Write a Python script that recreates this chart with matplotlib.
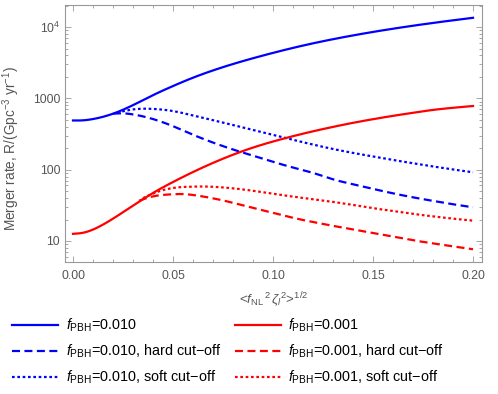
import numpy as np
import matplotlib
matplotlib.use("Agg")
import matplotlib.pyplot as plt
from matplotlib.ticker import FixedLocator, NullFormatter, FuncFormatter, LogLocator

plt.rcParams['font.family'] = ['Liberation Sans', 'DejaVu Sans']
plt.rcParams['mathtext.fontset'] = 'custom'
plt.rcParams['mathtext.rm'] = 'Liberation Sans'
plt.rcParams['mathtext.it'] = 'Liberation Sans:italic'
plt.rcParams['mathtext.bf'] = 'Liberation Sans:bold'

# ---- data (log10 of merger rate) ----
x_full = [0.00, 0.005, 0.01, 0.02, 0.03, 0.04, 0.05, 0.06, 0.07, 0.08, 0.09, 0.10,
          0.11, 0.12, 0.13, 0.14, 0.15, 0.16, 0.17, 0.18, 0.19, 0.20]
blue_solid_log = [2.69, 2.692, 2.71, 2.785, 2.905, 3.045, 3.173, 3.29, 3.392, 3.482, 3.563, 3.638,
                  3.708, 3.772, 3.83, 3.883, 3.932, 3.977, 4.019, 4.058, 4.095, 4.13]
red_solid_log = [1.10, 1.115, 1.16, 1.313, 1.495, 1.673, 1.827, 1.967, 2.095, 2.21, 2.31, 2.395,
                 2.47, 2.538, 2.6, 2.657, 2.708, 2.755, 2.798, 2.838, 2.868, 2.893]

x_blue_hard = [0.02, 0.025, 0.03, 0.04, 0.05, 0.06, 0.07, 0.08, 0.09, 0.10,
               0.11, 0.12, 0.13, 0.14, 0.15, 0.16, 0.17, 0.18, 0.19, 0.20]
blue_hard_log = [2.785, 2.79, 2.775, 2.71, 2.61, 2.49, 2.38, 2.283, 2.196, 2.11,
                 2.03, 1.955, 1.865, 1.795, 1.73, 1.668, 1.612, 1.562, 1.515, 1.472]

x_blue_soft = [0.022, 0.03, 0.035, 0.04, 0.05, 0.06, 0.07, 0.08, 0.09, 0.10,
               0.11, 0.12, 0.13, 0.14, 0.15, 0.16, 0.17, 0.18, 0.19, 0.20]
blue_soft_log = [2.80, 2.845, 2.855, 2.852, 2.822, 2.76, 2.694, 2.626, 2.556, 2.486,
                 2.418, 2.352, 2.29, 2.235, 2.185, 2.136, 2.09, 2.045, 2.003, 1.963]

x_red_hard = [0.033, 0.04, 0.05, 0.055, 0.06, 0.07, 0.08, 0.09, 0.10,
              0.11, 0.12, 0.13, 0.14, 0.15, 0.16, 0.17, 0.18, 0.19, 0.20]
red_hard_log = [1.565, 1.625, 1.655, 1.658, 1.645, 1.598, 1.535, 1.463, 1.395,
                1.325, 1.266, 1.212, 1.162, 1.11, 1.06, 1.01, 0.966, 0.924, 0.884]

x_red_soft = [0.035, 0.04, 0.05, 0.06, 0.065, 0.07, 0.08, 0.09, 0.10,
              0.11, 0.12, 0.13, 0.14, 0.15, 0.16, 0.17, 0.18, 0.19, 0.20]
red_soft_log = [1.60, 1.665, 1.743, 1.762, 1.764, 1.76, 1.738, 1.704, 1.662,
                1.622, 1.585, 1.548, 1.505, 1.46, 1.42, 1.38, 1.345, 1.313, 1.285]

labels = [r"$f_{\mathrm{PBH}}$=0.010",
          r"$f_{\mathrm{PBH}}$=0.010, hard cut$-$off",
          r"$f_{\mathrm{PBH}}$=0.010, soft cut$-$off",
          r"$f_{\mathrm{PBH}}$=0.001",
          r"$f_{\mathrm{PBH}}$=0.001, hard cut$-$off",
          r"$f_{\mathrm{PBH}}$=0.001, soft cut$-$off"]

x_ticks = [0.00, 0.05, 0.10, 0.15, 0.20]
x_tick_labels = ["0.00", "0.05", "0.10", "0.15", "0.20"]


def spline(xs, ys, n=400):
    """Natural cubic spline through the read points (for smooth drawing)."""
    xs = np.asarray(xs, float)
    ys = np.asarray(ys, float)
    k = len(xs)
    h = np.diff(xs)
    A = np.zeros((k, k))
    b = np.zeros(k)
    A[0, 0] = A[-1, -1] = 1.0
    for i in range(1, k - 1):
        A[i, i - 1] = h[i - 1]
        A[i, i] = 2 * (h[i - 1] + h[i])
        A[i, i + 1] = h[i]
        b[i] = 3 * ((ys[i + 1] - ys[i]) / h[i] - (ys[i] - ys[i - 1]) / h[i - 1])
    c = np.linalg.solve(A, b)
    bb = (ys[1:] - ys[:-1]) / h - h * (2 * c[:-1] + c[1:]) / 3
    d = (c[1:] - c[:-1]) / (3 * h)
    xx = np.linspace(xs[0], xs[-1], n)
    idx = np.clip(np.searchsorted(xs, xx) - 1, 0, k - 2)
    t = xx - xs[idx]
    yy = ys[idx] + bb[idx] * t + c[idx] * t**2 + d[idx] * t**3
    return xx, 10 ** yy


fig = plt.figure(figsize=(4.98, 3.94), dpi=100)
ax = fig.add_axes([65 / 498, 1 - 262 / 394, (482 - 65) / 498, (262 - 5) / 394])

blue = (0, 0, 1)
red = (1, 0, 0)
lw = 1.6
dash = (3.6, 2.0)
dot = (1.2, 1.2)

handles = []
h, = ax.plot(*spline(x_full, blue_solid_log), color=blue, lw=lw)
handles.append(h)
h, = ax.plot(*spline(x_blue_hard, blue_hard_log), color=blue, lw=lw, dashes=dash)
handles.append(h)
h, = ax.plot(*spline(x_blue_soft, blue_soft_log), color=blue, lw=lw, dashes=dot)
handles.append(h)
h, = ax.plot(*spline(x_full, red_solid_log), color=red, lw=lw)
handles.append(h)
h, = ax.plot(*spline(x_red_hard, red_hard_log), color=red, lw=lw, dashes=dash)
handles.append(h)
h, = ax.plot(*spline(x_red_soft, red_soft_log), color=red, lw=lw, dashes=dot)
handles.append(h)

ax.set_yscale('log')
ax.set_xlim(-0.004, 0.2045)
ax.set_ylim(5.07, 20400)

gray = '#555555'
framec = '#999999'
for s in ax.spines.values():
    s.set_color(framec)
    s.set_linewidth(0.8)

ax.xaxis.set_major_locator(FixedLocator(x_ticks))
ax.set_xticklabels(x_tick_labels)
ax.xaxis.set_minor_locator(FixedLocator([i * 0.01 for i in range(0, 21)]))
ax.yaxis.set_major_locator(FixedLocator([10, 100, 1000, 10000]))
ax.yaxis.set_major_formatter(FuncFormatter(
    lambda v, p: {10: "10", 100: "100", 1000: "1000", 10000: r"$10^{4}$"}.get(int(round(v)), "")))
ax.yaxis.set_minor_locator(LogLocator(base=10, subs=np.arange(2, 10), numticks=20))
ax.yaxis.set_minor_formatter(NullFormatter())

ax.tick_params(which='both', direction='in', top=True, right=True, color=framec,
               labelcolor=gray, labelsize=8.8, width=0.6)
ax.tick_params(which='major', length=4)
ax.tick_params(which='minor', length=2)
ax.tick_params(axis='x', pad=6)

ax.set_xlabel(r"<$f_{\mathrm{NL}}$$^{\,2}\,$$\zeta_l$$^{2}$>$^{1/2}$", color=gray, fontsize=9.6, labelpad=6)
ax.set_ylabel(r"Merger rate, R/(Gpc$^{-3}$ yr$^{-1}$)", color=gray, fontsize=9.8)
ax.yaxis.set_label_coords(-0.103, 0.44)

fig.legend(handles, labels, ncol=2, loc='upper left', bbox_to_anchor=(12 / 498, 1 - 317 / 394),
           frameon=False, fontsize=10.4, handlelength=3.19, handletextpad=0.53,
           columnspacing=0.9, labelspacing=0.58, borderaxespad=0.0, borderpad=0.0)

fig.savefig("out.png", dpi=100)
